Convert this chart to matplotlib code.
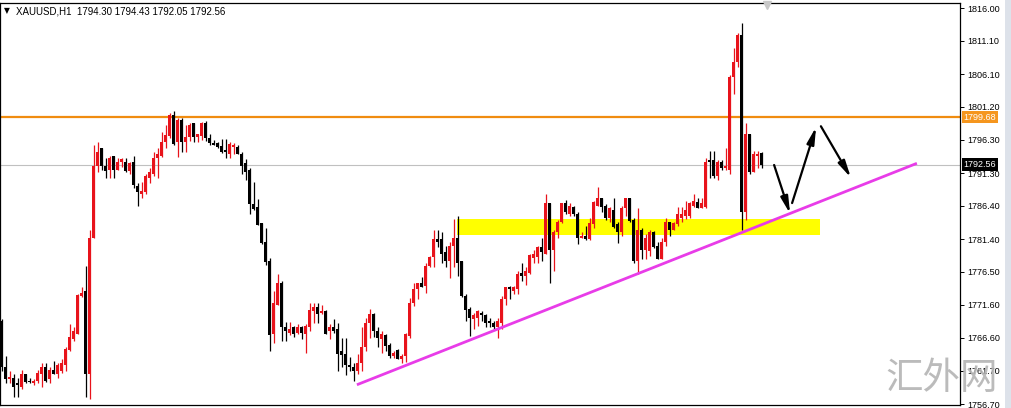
import matplotlib.pyplot as plt
import matplotlib.transforms as mtransforms
from matplotlib.patches import Rectangle

# hourly XAUUSD candles
opens = [1769.2, 1762.2, 1760.5, 1760.6, 1759.8, 1759.2, 1761.2, 1760.2, 1759.9, 1760.2,
         1761.2, 1762.2, 1760.4, 1761.8, 1761.2, 1761.7, 1762.5, 1764.8, 1766.5, 1767.2,
         1772.9, 1773.7, 1761.2, 1781.5, 1792.4, 1795.0, 1792.4, 1791.7, 1793.8, 1791.8,
         1792.9, 1793.0, 1791.6, 1792.9, 1789.3, 1788.2, 1788.4, 1790.6, 1791.2, 1793.5,
         1793.8, 1795.9, 1796.8, 1800.0, 1795.9, 1799.2, 1795.9, 1796.7, 1798.8, 1796.7,
         1796.9, 1798.8, 1796.5, 1795.8, 1795.8, 1795.3, 1794.7, 1794.2, 1795.2, 1795.2,
         1794.2, 1792.8, 1791.7, 1786.6, 1786.2, 1783.8, 1780.9, 1778.2, 1767.2, 1771.6,
         1774.9, 1768.2, 1767.4, 1768.2, 1767.4, 1768.3, 1767.2, 1768.2, 1770.7, 1771.3,
         1770.4, 1770.7, 1767.7, 1768.2, 1767.9, 1764.6, 1764.2, 1762.6, 1762.3, 1761.6,
         1762.8, 1765.2, 1768.8, 1770.2, 1767.7, 1766.5, 1767.1, 1765.6, 1763.9, 1764.8,
         1763.4, 1763.9, 1766.9, 1771.8, 1774.0, 1774.8, 1774.4, 1777.4, 1778.7, 1781.4,
         1781.4, 1779.4, 1778.2, 1780.3, 1781.5, 1778.2, 1772.9, 1771.0, 1769.4, 1769.6,
         1770.4, 1770.1, 1769.2, 1768.9, 1768.2, 1768.9, 1772.4, 1774.2, 1773.7, 1774.0,
         1776.4, 1775.9, 1776.4, 1778.6, 1778.8, 1780.2, 1779.2, 1786.8, 1779.7, 1782.4,
         1783.9, 1786.8, 1785.2, 1786.2, 1785.2, 1781.5, 1781.9, 1781.4, 1783.6, 1786.4,
         1787.5, 1786.3, 1784.5, 1785.8, 1783.6, 1782.4, 1786.0, 1787.5, 1784.2, 1778.2,
         1782.7, 1779.7, 1779.6, 1782.4, 1780.4, 1778.5, 1780.9, 1783.9, 1782.8, 1783.6,
         1784.5, 1784.9, 1784.8, 1786.4, 1786.9, 1786.0, 1786.2, 1793.2, 1793.2, 1790.8,
         1793.0, 1792.0, 1791.7, 1805.7, 1807.9, 1811.9, 1785.5, 1797.2, 1791.4, 1793.8,
         1794.30]
highs = [1769.5, 1763.9, 1761.7, 1761.2, 1760.6, 1761.8, 1761.2, 1760.6, 1760.5, 1761.8,
         1762.8, 1762.8, 1762.2, 1763.2, 1762.8, 1763.5, 1765.2, 1768.7, 1768.3, 1773.2,
         1774.3, 1777.4, 1782.7, 1795.5, 1796.0, 1795.1, 1793.6, 1793.9, 1793.9, 1793.5,
         1793.6, 1793.5, 1792.9, 1793.8, 1789.8, 1789.9, 1791.2, 1792.0, 1794.4, 1795.1,
         1797.4, 1798.5, 1800.3, 1800.6, 1799.5, 1799.5, 1798.5, 1798.8, 1798.8, 1797.2,
         1798.9, 1799.1, 1797.1, 1796.2, 1795.9, 1796.4, 1796.4, 1795.9, 1795.8, 1795.5,
         1794.4, 1793.4, 1792.0, 1789.9, 1787.4, 1783.8, 1783.0, 1778.6, 1773.7, 1776.2,
         1775.1, 1769.0, 1769.0, 1768.4, 1768.7, 1768.4, 1768.7, 1771.8, 1771.9, 1771.8,
         1771.5, 1770.8, 1768.7, 1769.5, 1768.9, 1766.6, 1766.6, 1763.7, 1762.8, 1764.2,
         1768.2, 1769.6, 1771.0, 1770.4, 1768.2, 1767.7, 1767.2, 1765.9, 1764.7, 1765.0,
         1764.2, 1767.4, 1772.6, 1774.8, 1774.9, 1775.7, 1777.8, 1778.9, 1782.8, 1782.8,
         1782.4, 1780.4, 1780.9, 1784.4, 1784.9, 1778.2, 1773.2, 1771.2, 1770.4, 1770.8,
         1770.6, 1770.2, 1769.6, 1769.2, 1769.6, 1772.9, 1774.2, 1774.4, 1774.4, 1776.7,
         1777.9, 1777.2, 1779.2, 1779.7, 1780.4, 1781.6, 1788.2, 1786.8, 1782.7, 1784.2,
         1786.8, 1787.2, 1786.8, 1786.4, 1785.4, 1782.4, 1783.3, 1784.6, 1787.1, 1789.2,
         1787.6, 1786.6, 1786.2, 1787.5, 1783.9, 1786.4, 1787.6, 1787.6, 1784.6, 1786.0,
         1783.0, 1782.2, 1782.7, 1782.6, 1780.9, 1781.5, 1784.6, 1784.0, 1783.9, 1786.2,
         1786.2, 1787.1, 1786.9, 1788.1, 1787.5, 1787.5, 1793.6, 1794.6, 1794.6, 1793.2,
         1793.2, 1795.0, 1806.0, 1810.0, 1812.2, 1813.8, 1798.8, 1797.2, 1794.6, 1794.6,
         1794.43]
lows = [1761.7, 1759.8, 1759.8, 1757.7, 1757.8, 1759.0, 1759.8, 1759.8, 1759.6, 1759.8,
        1759.2, 1760.0, 1759.9, 1761.2, 1760.6, 1761.4, 1761.7, 1764.7, 1766.2, 1767.2,
        1772.8, 1757.8, 1757.5, 1781.5, 1791.4, 1791.7, 1790.5, 1790.5, 1790.6, 1791.7,
        1792.2, 1791.4, 1791.2, 1789.1, 1786.4, 1787.5, 1788.2, 1789.8, 1790.9, 1790.5,
        1793.7, 1795.0, 1796.5, 1795.5, 1793.7, 1794.4, 1794.4, 1796.1, 1795.9, 1795.9,
        1796.2, 1796.1, 1795.5, 1795.5, 1795.0, 1794.3, 1793.6, 1793.6, 1794.2, 1794.1,
        1791.2, 1790.3, 1785.2, 1785.7, 1783.5, 1780.6, 1777.5, 1764.7, 1765.8, 1771.6,
        1766.2, 1766.2, 1767.1, 1766.8, 1767.2, 1766.5, 1764.4, 1767.7, 1768.9, 1768.9,
        1770.2, 1767.2, 1766.4, 1767.4, 1761.6, 1762.3, 1761.0, 1761.7, 1760.1, 1761.2,
        1761.7, 1764.7, 1766.6, 1766.8, 1765.2, 1764.4, 1764.6, 1763.6, 1763.6, 1763.4,
        1762.8, 1763.0, 1766.6, 1771.4, 1772.5, 1774.2, 1773.4, 1777.2, 1777.3, 1780.2,
        1777.9, 1777.2, 1775.6, 1777.2, 1775.9, 1772.8, 1769.2, 1766.9, 1768.0, 1768.4,
        1769.2, 1768.3, 1768.2, 1768.0, 1766.6, 1768.0, 1771.6, 1772.5, 1773.2, 1773.2,
        1775.2, 1774.6, 1776.2, 1777.8, 1777.9, 1778.2, 1779.2, 1774.8, 1776.7, 1781.5,
        1783.8, 1785.1, 1784.9, 1784.9, 1780.6, 1781.5, 1781.2, 1781.2, 1783.0, 1786.3,
        1785.4, 1784.2, 1783.9, 1783.0, 1780.8, 1781.9, 1784.9, 1783.9, 1777.9, 1776.2,
        1778.5, 1778.5, 1778.9, 1780.0, 1778.5, 1778.5, 1780.4, 1781.9, 1782.7, 1783.3,
        1784.0, 1784.4, 1784.6, 1786.2, 1786.0, 1786.0, 1786.0, 1790.6, 1790.5, 1790.2,
        1791.8, 1791.7, 1791.2, 1803.2, 1807.2, 1782.7, 1784.2, 1791.2, 1791.4, 1792.0,
        1792.05]
closes = [1762.3, 1760.5, 1760.8, 1759.2, 1759.6, 1761.2, 1760.0, 1760.0, 1760.2, 1761.4,
          1762.2, 1760.2, 1761.8, 1761.2, 1762.6, 1762.8, 1765.0, 1766.7, 1767.6, 1773.1,
          1773.4, 1761.2, 1781.5, 1792.4, 1794.4, 1792.4, 1791.6, 1793.6, 1791.7, 1792.9,
          1793.4, 1791.6, 1792.8, 1789.5, 1788.4, 1788.6, 1790.8, 1791.4, 1793.6, 1794.2,
          1796.0, 1797.0, 1800.0, 1795.6, 1799.2, 1795.9, 1796.7, 1798.5, 1796.7, 1797.2,
          1798.8, 1796.5, 1795.8, 1795.5, 1795.2, 1794.4, 1794.4, 1795.6, 1795.5, 1794.2,
          1792.4, 1791.4, 1786.6, 1785.9, 1783.5, 1780.8, 1778.0, 1767.1, 1771.8, 1774.9,
          1768.2, 1767.6, 1768.0, 1767.2, 1768.2, 1767.4, 1768.4, 1770.8, 1771.3, 1770.2,
          1770.7, 1767.2, 1768.2, 1767.6, 1764.2, 1764.1, 1762.5, 1762.2, 1761.6, 1762.8,
          1765.2, 1768.8, 1770.2, 1767.7, 1766.6, 1767.2, 1765.4, 1763.9, 1764.4, 1763.5,
          1763.9, 1767.2, 1771.8, 1774.0, 1774.8, 1774.3, 1777.4, 1778.7, 1781.4, 1780.9,
          1779.2, 1778.2, 1780.4, 1781.5, 1777.9, 1772.9, 1770.8, 1769.6, 1770.0, 1770.6,
          1770.0, 1768.9, 1768.8, 1768.3, 1769.1, 1772.5, 1774.2, 1774.0, 1774.3, 1776.2,
          1775.9, 1776.7, 1779.1, 1779.2, 1780.2, 1779.4, 1786.8, 1779.7, 1782.4, 1783.9,
          1786.8, 1785.4, 1786.3, 1785.2, 1781.5, 1781.9, 1781.4, 1783.8, 1786.9, 1787.5,
          1786.2, 1784.5, 1786.0, 1783.2, 1782.4, 1786.0, 1787.5, 1784.1, 1778.2, 1782.7,
          1779.7, 1781.5, 1782.4, 1780.2, 1778.5, 1780.9, 1783.9, 1782.8, 1783.8, 1785.2,
          1785.2, 1785.7, 1786.8, 1787.1, 1786.0, 1786.8, 1793.0, 1792.9, 1790.8, 1793.0,
          1792.0, 1792.4, 1805.7, 1807.9, 1811.9, 1785.5, 1797.2, 1791.4, 1794.1, 1794.1,
          1792.56]

price_ticks = [1816.00, 1811.10, 1806.10, 1801.20, 1796.30, 1791.30, 1786.40,
               1781.40, 1776.50, 1771.60, 1766.60, 1761.70, 1756.70]
level_price = 1799.68
last_price = 1792.56
header = "XAUUSD,H1  1794.30 1794.43 1792.05 1792.56"

# drawn objects (bar index, price)
zone_x = [113.8, 204.6]
zone_y = [1781.95, 1784.35]
trend_x = [88.8, 228.8]
trend_y = [1759.6, 1792.75]
arrow_starts = [(193.1, 1792.5), (197.6, 1786.8), (204.8, 1798.3)]
arrow_ends = [(197.1, 1785.2), (203.6, 1798.2), (212.3, 1790.6)]

W, H = 1012, 408
fig = plt.figure(figsize=(W / 100, H / 100), dpi=100)
fig.patch.set_facecolor('white')
ax = fig.add_axes([0, 3 / H, 960 / W, 402 / H])
ax.set_xlim(-0.425, 239.575)
ax.set_ylim(1756.57, 1816.75)

red = '#e8131b'
n = len(opens)
xs = list(range(n))
cols = [red if c >= o else 'black' for o, c in zip(opens, closes)]
bottoms = [min(o, c) for o, c in zip(opens, closes)]
heights = [max(abs(c - o), 0.16) for o, c in zip(opens, closes)]

# yellow zone and level lines under the candles
ax.add_patch(Rectangle((zone_x[0], zone_y[0]), zone_x[1] - zone_x[0], zone_y[1] - zone_y[0],
                       facecolor='#ffff00', edgecolor='none', zorder=1))
ax.axhline(last_price, color='#c0c0c0', lw=0.8, zorder=1)
ax.axhline(level_price, color='#f08c10', lw=1.6, zorder=2)

ax.vlines(xs, lows, highs, colors=cols, lw=0.9, zorder=3)
ax.bar(xs, heights, bottom=bottoms, width=0.76, color=cols, lw=0, zorder=4)

ax.plot(trend_x, trend_y, color='#e83ce8', lw=2.0, solid_capstyle='butt', zorder=5)
for s, e in zip(arrow_starts, arrow_ends):
    ax.annotate('', xy=e, xytext=s,
                arrowprops=dict(arrowstyle='-|>,head_length=1.0,head_width=0.22',
                                color='black', lw=1.6, shrinkA=0, shrinkB=0), zorder=6)

# axis styling like the terminal
for sp in ax.spines.values():
    sp.set_color('black')
    sp.set_linewidth(0.9)
ax.set_xticks([])
ax.yaxis.tick_right()
ax.set_yticks(price_ticks)
ax.set_yticklabels([f"{p:.2f}" for p in price_ticks])
ax.tick_params(axis='y', direction='out', length=3, width=0.7, pad=2,
               labelsize=6.5, labelfontfamily='Liberation Sans')

tr = mtransforms.blended_transform_factory(ax.transAxes, ax.transData)
ax.text(1.0035, level_price, f"{level_price:.2f}", transform=tr, va='center', ha='left',
        fontsize=6.5, family='Liberation Sans', color='white', zorder=10, clip_on=False,
        bbox=dict(boxstyle='square,pad=0.2', fc='#f5961e', ec='none'))
ax.text(1.0035, last_price, f"{last_price:.2f}", transform=tr, va='center', ha='left',
        fontsize=6.5, family='Liberation Sans', color='white', zorder=10, clip_on=False,
        bbox=dict(boxstyle='square,pad=0.2', fc='black', ec='none'))

# header line
fig.text(4 / W, 1 - 11 / H, '\u25bc', fontsize=5.5, family='DejaVu Sans', va='center')
fig.text(16 / W, 1 - 11 / H, header, fontsize=7, family='Liberation Sans', va='center')

# chart-shift marker
ax.plot([191.3], [1816.5], marker='v', color='#c8c8c8', markersize=6, clip_on=False, zorder=7)

# right window strip
fig.patches.append(Rectangle((1005 / W, 0), 7 / W, 1, transform=fig.transFigure,
                             facecolor='#dde2ea', edgecolor='none'))

# watermark
fig.text(942 / W, 1 - 379 / H, '汇外网', fontsize=27, color='#b4b4b4', alpha=0.9,
         family=['Noto Sans CJK SC', 'DejaVu Sans'], ha='center', va='center', zorder=20)

fig.savefig('out.png', dpi=100)
